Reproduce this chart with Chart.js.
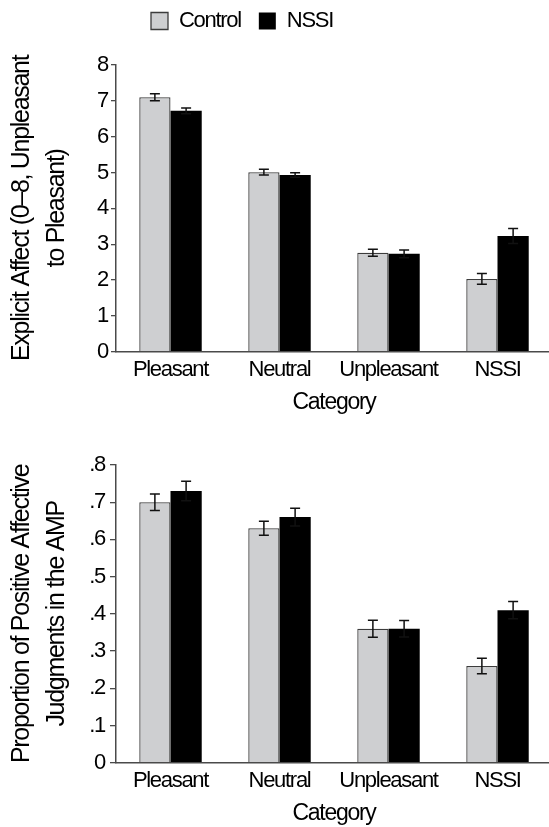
<!DOCTYPE html>
<html>
<head>
<meta charset="utf-8">
<script src="https://cdn.jsdelivr.net/npm/chart.js@4.4.1/dist/chart.umd.min.js"></script>
<style>
  html, body { margin: 0; padding: 0; background: #fff; overflow: hidden; width: 549px; height: 827px; }
  canvas { display: block; }
</style>
</head>
<body>
<canvas id="c1" width="552" height="420"></canvas>
<canvas id="c2" width="552" height="412"></canvas>
<script>
const categories = ['Pleasant', 'Neutral', 'Unpleasant', 'NSSI'];
const seriesNames = ['Control', 'NSSI'];

const explicitControl = [7.10, 5.01, 2.76, 2.03];
const explicitNSSI = [6.72, 4.93, 2.73, 3.23];
const explicitControlErr = [0.10, 0.08, 0.10, 0.15];
const explicitNSSIErr = [0.08, 0.06, 0.11, 0.21];

const ampControl = [0.70, 0.63, 0.36, 0.26];
const ampNSSI = [0.73, 0.66, 0.36, 0.41];
const ampControlErr = [0.022, 0.019, 0.023, 0.021];
const ampNSSIErr = [0.026, 0.024, 0.022, 0.023];

const explicitTicks = ['0', '1', '2', '3', '4', '5', '6', '7', '8'];
const ampTicks = ['0', '.1', '.2', '.3', '.4', '.5', '.6', '.7', '.8'];

const explicitTitle = ['Explicit Affect (0\u20138, Unpleasant', 'to Pleasant)'];
const ampTitle = ['Proportion of Positive Affective', 'Judgments in the AMP'];
const xTitle = 'Category';

const FONT = "'Liberation Sans', Arial, sans-serif";
const LETTER_SPACING = '-1.3px';
const TEXT = '#000';
const AXIS = '#4a4a4a';
Chart.defaults.font.family = FONT;
Chart.defaults.color = TEXT;

// condensed look (the reference uses a narrow sans face)
const narrowText = {
  id: 'narrowText',
  beforeUpdate(chart) { chart.ctx.letterSpacing = LETTER_SPACING; },
  beforeLayout(chart) { chart.ctx.letterSpacing = LETTER_SPACING; },
  beforeDraw(chart) { chart.ctx.letterSpacing = LETTER_SPACING; }
};

const errorBars = {
  id: 'errorBars',
  afterDatasetsDraw(chart) {
    const ctx = chart.ctx;
    const y = chart.scales.y;
    chart.data.datasets.forEach((ds, i) => {
      const meta = chart.getDatasetMeta(i);
      meta.data.forEach((bar, j) => {
        const v = ds.data[j], e = ds.errors[j];
        const top = y.getPixelForValue(v + e);
        const bot = y.getPixelForValue(v - e);
        ctx.save();
        ctx.strokeStyle = '#111';
        ctx.lineWidth = 1.5;
        ctx.beginPath();
        ctx.moveTo(bar.x, top); ctx.lineTo(bar.x, bot);
        ctx.moveTo(bar.x - 5, top); ctx.lineTo(bar.x + 5, top);
        ctx.moveTo(bar.x - 5, bot); ctx.lineTo(bar.x + 5, bot);
        ctx.stroke();
        ctx.restore();
      });
    });
  }
};

const legendPlace = {
  id: 'legendPlace',
  beforeDraw(chart) {
    const l = chart.legend;
    if (!l || !l.options.display) return;
    const w = l.width, h = l.height;
    l.left = 133; l.right = 133 + w;
    l.top = -8; l.bottom = -8 + h;
  }
};

function makeChart(id, cfg) {
  const {controlVals, nssiVals, controlErr, nssiErr, yMax, yStep, ticks, yTitle,
         padTop, showLegend, xHeight, xTitlePadBottom, tickLen, tickPad} = cfg;
  return new Chart(document.getElementById(id), {
    type: 'bar',
    data: {
      labels: categories,
      datasets: [
        {
          label: seriesNames[0],
          data: controlVals,
          errors: controlErr,
          backgroundColor: '#cecfd1',
          borderColor: '#3c3c3c',
          borderWidth: 1.3,
          categoryPercentage: 0.573,
          barPercentage: 1.0
        },
        {
          label: seriesNames[1],
          data: nssiVals,
          errors: nssiErr,
          backgroundColor: '#000000',
          borderColor: '#000000',
          borderWidth: 0,
          categoryPercentage: 0.573,
          barPercentage: 1.0
        }
      ]
    },
    options: {
      responsive: false,
      animation: false,
      devicePixelRatio: 1,
      layout: { padding: { top: padTop, left: 0, right: 0, bottom: 0 } },
      plugins: {
        tooltip: { enabled: false },
        legend: {
          display: showLegend,
          position: 'top',
          align: 'start',
          labels: {
            boxWidth: 17,
            boxHeight: 17,
            padding: 18,
            color: TEXT,
            font: { size: 22, family: FONT }
          }
        }
      },
      scales: {
        x: {
          grid: { display: false, drawTicks: false },
          border: { display: true, color: AXIS, width: 1.5 },
          ticks: { padding: 5.1, color: TEXT, font: { size: 22, family: FONT }, maxRotation: 0, autoSkip: false },
          title: {
            display: true,
            text: xTitle,
            color: TEXT,
            font: { size: 23, family: FONT, lineHeight: 1.2 },
            padding: { top: 0, bottom: xTitlePadBottom }
          },
          afterFit(scale) { scale.height = xHeight; }
        },
        y: {
          min: 0,
          max: yMax,
          grid: { drawOnChartArea: false, drawTicks: true, tickLength: tickLen, color: AXIS, lineWidth: 1.3 },
          border: { display: true, color: AXIS, width: 1.5 },
          ticks: {
            stepSize: yStep,
            padding: tickPad,
            color: TEXT,
            font: { size: 22, family: FONT },
            callback: (v, i) => ticks[i]
          },
          title: {
            display: true,
            text: yTitle,
            color: TEXT,
            font: { size: 25, family: FONT, lineHeight: 1.42 },
            padding: { top: 4.25, bottom: 0 }
          },
          afterFit(scale) { scale.width = 116; }
        }
      }
    },
    plugins: [narrowText, errorBars, legendPlace]
  });
}

makeChart('c1', {
  controlVals: explicitControl, nssiVals: explicitNSSI,
  controlErr: explicitControlErr, nssiErr: explicitNSSIErr,
  yMax: 8, yStep: 1, ticks: explicitTicks, yTitle: explicitTitle,
  padTop: 15, showLegend: true, xHeight: 420 - 351.7, xTitlePadBottom: 3.8,
  tickLen: 5, tickPad: 3
});

makeChart('c2', {
  controlVals: ampControl, nssiVals: ampNSSI,
  controlErr: ampControlErr, nssiErr: ampNSSIErr,
  yMax: 0.8, yStep: 0.1, ticks: ampTicks, yTitle: ampTitle,
  padTop: 45, showLegend: false, xHeight: 412 - 342.7, xTitlePadBottom: 4.8,
  tickLen: 6, tickPad: 5
});
</script>
</body>
</html>
